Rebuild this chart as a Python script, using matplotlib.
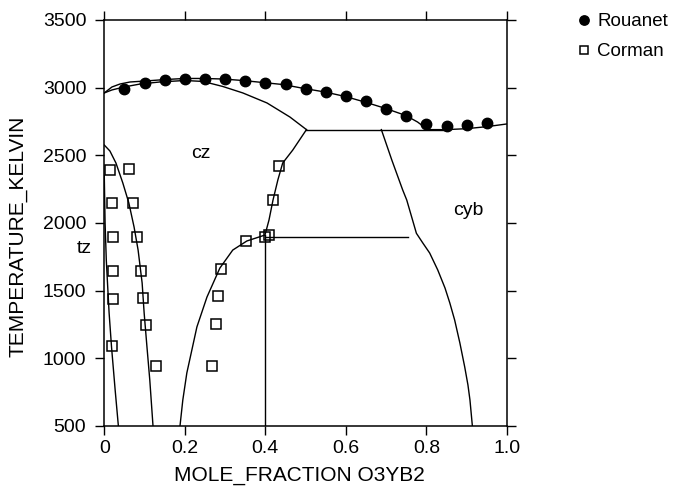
import matplotlib
matplotlib.use("Agg")
import matplotlib.pyplot as plt

plt.rcParams['font.family'] = ['Liberation Sans', 'DejaVu Sans']

# Rouanet liquidus points (filled circles)
rouanet_x = [0.05, 0.10, 0.15, 0.20, 0.25, 0.30, 0.35, 0.40, 0.45, 0.50,
             0.55, 0.60, 0.65, 0.70, 0.75, 0.80, 0.85, 0.90, 0.95]
rouanet_t = [2988, 3032, 3054, 3064, 3066, 3064, 3051, 3032, 3027, 2992,
             2966, 2938, 2899, 2845, 2791, 2729, 2717, 2722, 2737]

# Corman points (open squares)
corman_x = [0.014, 0.062, 0.018, 0.072, 0.022, 0.082, 0.022, 0.091, 0.022, 0.097,
            0.103, 0.020, 0.128, 0.283, 0.277, 0.268, 0.291, 0.351, 0.400, 0.410,
            0.419, 0.435]
corman_t = [2392, 2399, 2151, 2151, 1893, 1894, 1645, 1648, 1442, 1444,
            1243, 1091, 941, 1461, 1255, 947, 1662, 1868, 1897, 1911,
            2170, 2421]

# calculated phase boundaries
liq_x = [0.0, 0.019, 0.039, 0.064, 0.101, 0.151, 0.200, 0.247, 0.294, 0.344,
         0.394, 0.444, 0.496, 0.548, 0.598, 0.647, 0.699, 0.749, 0.778, 0.803]
liq_t = [2961, 3005, 3027, 3042, 3049, 3060, 3068, 3068, 3064, 3053,
         3038, 3023, 2994, 2968, 2935, 2894, 2846, 2794, 2746, 2690]

liq2_x = [0.803, 0.85, 0.90, 0.95, 1.0]
liq2_t = [2690, 2690, 2697, 2712, 2732]

sol_x = [0.0, 0.019, 0.049, 0.089, 0.138, 0.200, 0.245, 0.294, 0.344, 0.404, 0.461, 0.502]
sol_t = [2961, 2983, 3005, 3027, 3042, 3053, 3046, 3009, 2961, 2887, 2783, 2690]

cz_right_x = [0.502, 0.468, 0.443, 0.431, 0.419, 0.409, 0.399, 0.354, 0.319, 0.287,
              0.255, 0.230, 0.205, 0.195, 0.188]
cz_right_t = [2690, 2539, 2443, 2318, 2170, 2022, 1911, 1867, 1800, 1667,
              1453, 1232, 892, 692, 500]

cz_left_x = [0.0, 0.014, 0.029, 0.046, 0.061, 0.074, 0.084, 0.094, 0.099, 0.106, 0.113, 0.121]
cz_left_t = [2576, 2532, 2443, 2296, 2148, 1970, 1800, 1557, 1335, 1084, 840, 500]

tz_x = [0.0, 0.002, 0.005, 0.008, 0.012, 0.018, 0.027, 0.035]
tz_t = [2350, 2000, 1727, 1557, 1335, 1084, 766, 500]

cyb_x = [0.688, 0.714, 0.741, 0.751, 0.764, 0.775, 0.791, 0.808, 0.828, 0.846,
         0.858, 0.870, 0.883, 0.895, 0.903, 0.908, 0.914]
cyb_t = [2690, 2465, 2244, 2170, 2037, 1924, 1852, 1778, 1653, 1520,
         1409, 1283, 1113, 936, 803, 692, 500]

eut_x = [0.502, 0.85]
eut_t = [2690, 2690]

per_x = [0.4, 0.755]
per_t = [1900, 1900]

comp_x = [0.4, 0.4]
comp_t = [500, 1910]

fig = plt.figure(figsize=(6.78, 4.95), dpi=100)
ax = fig.add_axes([0.1538, 0.1394, 0.594, 0.8202])

lines = [(liq_x, liq_t), (liq2_x, liq2_t), (sol_x, sol_t), (cz_right_x, cz_right_t),
         (cz_left_x, cz_left_t), (tz_x, tz_t), (cyb_x, cyb_t), (eut_x, eut_t),
         (per_x, per_t), (comp_x, comp_t)]
for xs, ts in lines:
    ax.plot(xs, ts, color="black", lw=1.0)

ax.plot(rouanet_x, rouanet_t, "o", color="black", markersize=7.5, label="Rouanet")
ax.plot(corman_x, corman_t, "s", markerfacecolor="none", markeredgecolor="black",
        markersize=7, markeredgewidth=1.1, label="Corman")

ax.text(0.24, 2517, "cz", fontsize=14, ha="center", va="center")
ax.text(0.905, 2089, "cyb", fontsize=14, ha="center", va="center")
ax.text(-0.05, 1808, "tz", fontsize=14, ha="center", va="center", clip_on=False)

ax.set_xlim(0, 1)
ax.set_ylim(500, 3500)
ax.set_xticks([0, 0.2, 0.4, 0.6, 0.8, 1.0])
ax.set_xticklabels(["0", "0.2", "0.4", "0.6", "0.8", "1.0"])
ax.set_yticks([500, 1000, 1500, 2000, 2500, 3000, 3500])
ax.tick_params(direction="out", length=6.5, width=1, labelsize=14,
               top=True, right=True, labeltop=False, labelright=False)
ax.tick_params(axis="y", pad=6.5)
for s in ax.spines.values():
    s.set_linewidth(1.1)

ax.set_xlabel("MOLE_FRACTION O3YB2", fontsize=15)
ax.set_ylabel("TEMPERATURE_KELVIN", fontsize=15)
ax.xaxis.set_label_coords(0.485, -0.099)
ax.yaxis.set_label_coords(-0.19, 0.467)

ax.legend(loc="upper left", bbox_to_anchor=(0.831, 1.0), bbox_transform=fig.transFigure,
          frameon=False, fontsize=13.5, handlelength=0.8, handletextpad=0.3,
          labelspacing=0.7, markerscale=0.9, borderpad=0.2)

fig.savefig("out.png", dpi=100)
